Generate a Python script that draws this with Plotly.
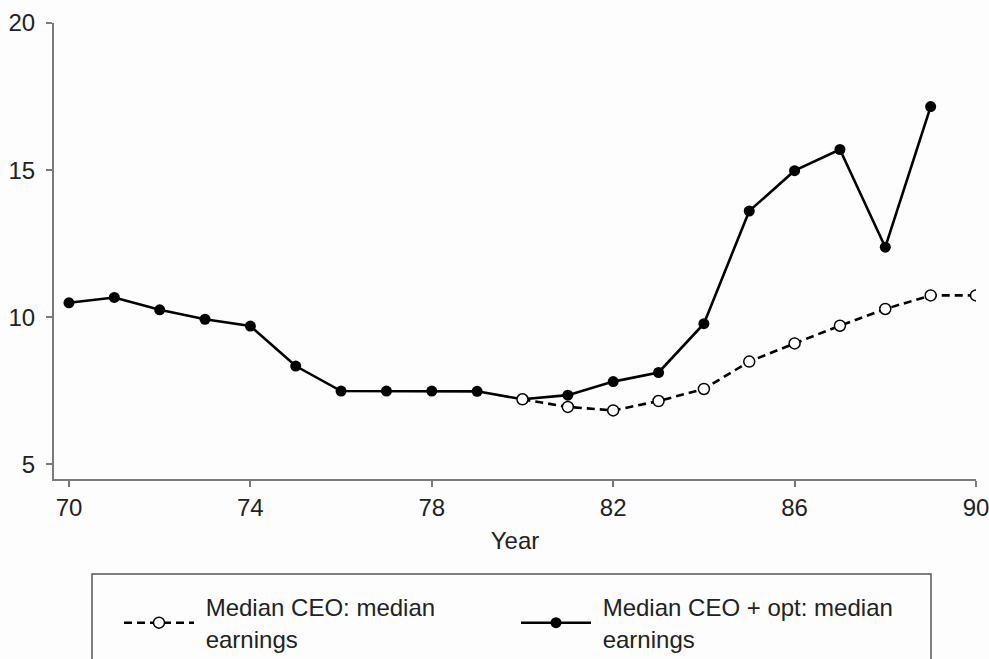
import plotly.graph_objects as go

years_opt = [70, 71, 72, 73, 74, 75, 76, 77, 78, 79, 80, 81, 82, 83, 84, 85, 86, 87, 88, 89]
median_opt = [10.49, 10.67, 10.25, 9.93, 9.70, 8.34, 7.49, 7.49, 7.49, 7.48, 7.21, 7.35, 7.81, 8.12,
              9.78, 13.61, 14.98, 15.70, 12.38, 17.16]

years_ceo = [80, 81, 82, 83, 84, 85, 86, 87, 88, 89, 90]
median_ceo = [7.21, 6.95, 6.83, 7.15, 7.56, 8.49, 9.11, 9.71, 10.28, 10.74, 10.74]

x_ticks = [70, 74, 78, 82, 86, 90]
y_ticks = [5, 10, 15, 20]

NB = "\u00a0"
name_ceo = NB + "Median CEO: median<br>" + NB + "earnings"
name_opt = NB + "Median CEO + opt: median<br>" + NB + "earnings"

FONT = "Liberation Sans"
FS = 24
W, H = 989, 659

fig = go.Figure()
fig.add_trace(go.Scatter(
    x=years_opt, y=median_opt, name=name_opt, mode="lines+markers",
    line=dict(color="black", width=2.6),
    marker=dict(symbol="circle", size=11, color="black"),
    legendrank=2,
))
fig.add_trace(go.Scatter(
    x=years_ceo, y=median_ceo, name=name_ceo, mode="lines+markers",
    line=dict(color="black", width=2.6, dash="8px,5px"),
    marker=dict(symbol="circle", size=11, color="white", line=dict(color="black", width=1.5)),
    legendrank=1,
))

axis_common = dict(
    showgrid=False, zeroline=False, showline=True, linecolor="#7a7a7a", linewidth=2,
    ticks="outside", ticklen=6, tickwidth=1.5, tickcolor="#7a7a7a",
    tickfont=dict(family=FONT, size=FS, color="#222"),
    automargin=False, ticklabeloverflow="allow",
)

fig.update_xaxes(range=[69.67, 90], tickvals=x_ticks, ticktext=[str(t) for t in x_ticks],
                 title=dict(text="Year", font=dict(family=FONT, size=FS, color="#222"), standoff=12),
                 **axis_common)
fig.update_yaxes(range=[4.5, 20], tickvals=y_ticks, ticktext=[str(t) for t in y_ticks],
                 ticklabelstandoff=6, **axis_common)

fig.update_layout(
    width=W, height=H,
    margin=dict(l=54, r=13, t=23, b=180, autoexpand=False),
    paper_bgcolor="#fdfdfd", plot_bgcolor="#fdfdfd",
    font=dict(family=FONT, size=FS, color="#222"),
    legend=dict(
        orientation="h", xref="container", yref="container",
        x=119 / W, xanchor="left", y=1 - 585 / H, yanchor="top",
        bgcolor="rgba(0,0,0,0)", borderwidth=0,
        font=dict(family=FONT, size=FS, color="#222"),
        itemwidth=70, entrywidth=312, traceorder="normal",
    ),
    shapes=[dict(type="rect", xref="paper", yref="paper",
                 x0=(92 - 54) / 922, x1=(931 - 54) / 922,
                 y0=(456 - 700) / 456, y1=(456 - 574 + 23) / 456,
                 line=dict(color="#555", width=1.5), fillcolor="rgba(0,0,0,0)", layer="above")],
)

fig.write_html("out.html", config={"displayModeBar": False},
               post_script="document.body.style.margin='0px';document.body.style.overflow='hidden';")
